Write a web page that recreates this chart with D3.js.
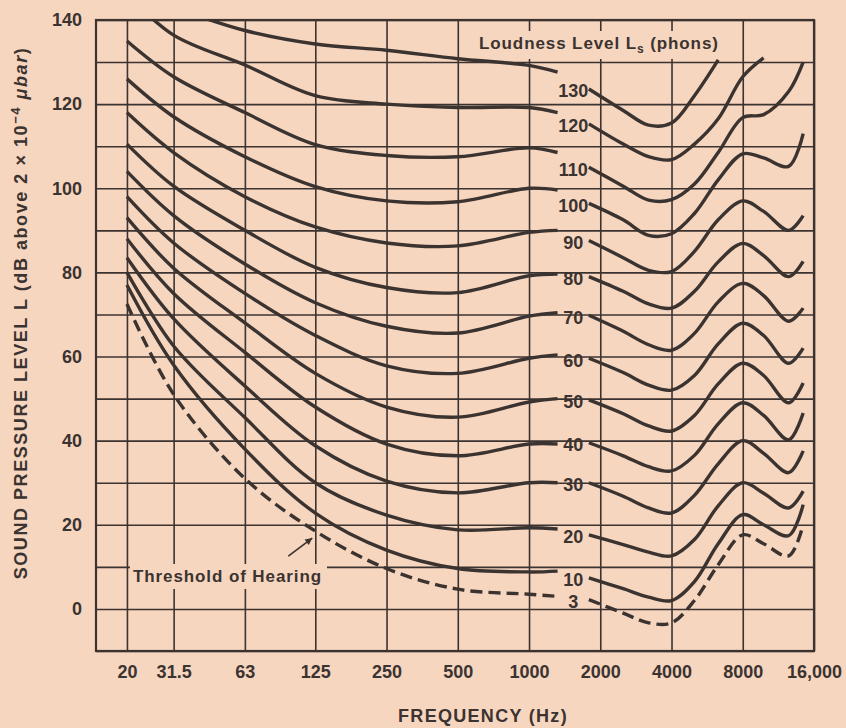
<!DOCTYPE html>
<html><head><meta charset="utf-8">
<script src="https://cdn.jsdelivr.net/npm/d3@7"></script>
<style>
html,body{margin:0;padding:0;background:#f7d6c0;}
svg{display:block;}
text{font-family:"Liberation Sans", Arial, Helvetica, sans-serif; fill:#3b3330; font-weight:bold;}
</style></head><body>
<svg id="chart" width="846" height="728"></svg>
<script>
// ---- data ----
const levels = [130, 120, 110, 100, 90, 80, 70, 60, 50, 40, 30, 20, 10, 3];
const lowFreqs = [20, 31.5, 63, 125, 250, 500, 1000, 1320];
const lowDb = [
  [null, 143, 137.5, 134.3, 132.8, 130.8, 129.2, 127.6],
  [146, 136.4, 129.3, 122, 120, 119.2, 119.2, 118],
  [135, 126.5, 118, 110.4, 107.8, 107.5, 109.6, 108.5],
  [126, 117, 107.5, 100.4, 97, 96.8, 100, 99.6],
  [118, 108.5, 98, 90.8, 87, 86.3, 89.5, 90],
  [110.5, 100.5, 90, 81.2, 76.4, 75.2, 79.2, 79.6],
  [104, 93.5, 82, 72.8, 67.2, 65.6, 69.6, 70.4],
  [98, 87, 75, 65, 57.8, 56, 59.6, 60.4],
  [93, 81, 68, 56, 48, 45.6, 49.2, 50],
  [88, 75, 61, 48, 39.2, 36.4, 39.2, 39.2],
  [83.5, 69, 53, 38.8, 30.4, 27.6, 30, 30],
  [80, 62.5, 45.5, 30, 22.3, 18.8, 19.3, 19],
  [77, 58, 38, 22.8, 14, 9.6, 8.8, 9],
  [72.5, 51, 31, 18.5, 9.6, 4.7, 3.5, 3]
];
const highFreqs = [1790, 2500, 3200, 4000, 5000, 6300, 8000, 9800, 12500, 14400];
const highDb = [
  [123.6, 118.5, 115, 115.5, 122, 130.5, null, null, null, null],
  [115.3, 110.5, 107.5, 106.8, 110.5, 116.5, 126.5, 131, null, null],
  [105, 100.5, 97.2, 97.3, 101, 108.5, 116.8, 117.5, 123, 130],
  [96.4, 92.5, 88.8, 89.2, 94, 102, 108.2, 107.2, 105.2, 113],
  [87.6, 83.5, 80.5, 80.2, 85, 92.5, 97, 94.5, 90, 93.5],
  [79, 75.5, 72.5, 71.5, 75.5, 82.5, 86.9, 84, 79, 82.6],
  [69.8, 66, 62.8, 61.5, 65.5, 73, 77.4, 74.5, 68.4, 71.5],
  [59.6, 56.2, 53.2, 52, 55.5, 63, 67.9, 65, 58.4, 62],
  [49.7, 46.4, 43.5, 42.3, 46, 53.5, 58.4, 55.5, 49, 53.7],
  [39.5, 36.4, 33.8, 32.8, 36.5, 44, 49, 46, 40.2, 46.6],
  [30, 26.8, 24, 22.8, 27, 34.5, 40, 37, 32.4, 37.6],
  [17.6, 15.3, 13.5, 12.6, 16.5, 24.5, 30, 27.5, 24, 28],
  [7.4, 4.8, 2.8, 2, 6.5, 15.5, 22.4, 20, 17.4, 24.8],
  [2.2, -1, -3.3, -3.3, 2, 10.5, 17.6, 15.5, 12.6, 20]
];
const freqTicks = [20, 31.5, 63, 125, 250, 500, 1000, 2000, 4000, 8000, 16000];
const freqTickLabels = ["20", "31.5", "63", "125", "250", "500", "1000", "2000", "4000", "8000", "16,000"];
const dbGrid = [-10, 0, 10, 20, 30, 40, 50, 60, 70, 80, 90, 100, 110, 120, 130, 140];
const dbLabels = [0, 20, 40, 60, 80, 100, 120, 140];

// ---- layout ----
const ink = "#3b3330";
const bg = "#f7d6c0";
const svg = d3.select("#chart");
const x = d3.scaleLog().domain([14.8, 16000]).range([96, 814]);
const y = d3.scaleLinear().domain([-10, 140]).range([651, 20]);
const [x0, x1] = x.range();
const [y0, y1] = y.range();

svg.append("rect").attr("width", 846).attr("height", 728).attr("fill", bg);
const gGrid = svg.append("g");
const gBoxes = svg.append("g");
const gFrame = svg.append("g");
const gCurves = svg.append("g");
const gText = svg.append("g");

// horizontal grid + y labels
const gy = gGrid.append("g").attr("transform", `translate(${x0},0)`)
  .call(d3.axisLeft(y).tickValues(dbGrid).tickSize(-(x1 - x0)).tickPadding(14)
    .tickFormat(d => dbLabels.includes(d) ? d : ""));
gy.select(".domain").remove();
gy.selectAll("line").attr("stroke", ink).attr("stroke-width", 1.6);
gy.selectAll("text").attr("font-size", 18).attr("fill", ink);

// vertical grid + x labels
const gx = gGrid.append("g").attr("transform", `translate(0,${y0})`)
  .call(d3.axisBottom(x).tickValues(freqTicks).tickSize(-(y0 - y1)).tickPadding(14)
    .tickFormat((d, i) => freqTickLabels[i]));
gx.select(".domain").remove();
gx.selectAll("line").attr("stroke", ink).attr("stroke-width", 1.6);
gx.selectAll("text").attr("font-size", 18).attr("fill", ink);

// frame
gFrame.append("rect").attr("x", x0).attr("y", y1).attr("width", x1 - x0).attr("height", y0 - y1)
  .attr("fill", "none").attr("stroke", ink).attr("stroke-width", 2.2);

// clip
svg.append("clipPath").attr("id", "plotclip").append("rect")
  .attr("x", x0).attr("y", y1).attr("width", x1 - x0).attr("height", y0 - y1);
gCurves.attr("clip-path", "url(#plotclip)");

const line = d3.line().defined(d => d[1] != null)
  .x(d => x(d[0])).y(d => y(d[1])).curve(d3.curveCatmullRom.alpha(0.5));

levels.forEach((lv, i) => {
  const segs = [lowFreqs.map((f, j) => [f, lowDb[i][j]]), highFreqs.map((f, j) => [f, highDb[i][j]])];
  segs.forEach(s => {
    gCurves.append("path").attr("d", line(s.filter(p => p[1] != null)))
      .attr("fill", "none").attr("stroke", ink).attr("stroke-width", 3.4)
      .attr("stroke-linecap", "butt")
      .attr("stroke-dasharray", lv === 3 ? "12,6" : null);
  });
});

// level labels in the gap
const labelX = (x(lowFreqs[lowFreqs.length - 1]) + x(highFreqs[0])) / 2;
levels.forEach((lv, i) => {
  gText.append("text").attr("x", labelX).attr("y", y(highDb[i][0]) + 2)
    .attr("dy", "0.35em").attr("text-anchor", "middle").attr("font-size", 18)
    .text(lv);
});

// "Loudness Level Ls (phons)" with backing box
const lt = gText.append("text").attr("x", 479).attr("y", 49).attr("font-size", 17).attr("letter-spacing", 0.9);
lt.append("tspan").text("Loudness Level L");
lt.append("tspan").attr("dy", 4).attr("font-size", 12).text("s");
lt.append("tspan").attr("dy", -4).text(" (phons)");
const lb = lt.node().getBBox();
gBoxes.append("rect").attr("x", lb.x - 4).attr("y", lb.y - 3).attr("width", lb.width + 8).attr("height", lb.height + 6).attr("fill", bg);

// "Threshold of Hearing" with backing box and arrow
const tt = gText.append("text").attr("x", 133).attr("y", 582).attr("font-size", 17).attr("letter-spacing", 0.9)
  .text("Threshold of Hearing");
const tb = tt.node().getBBox();
gBoxes.append("rect").attr("x", tb.x - 3).attr("y", tb.y - 3).attr("width", tb.width + 8).attr("height", tb.height + 6).attr("fill", bg);

const tipX = x(125) - 3, tipY = y(lowDb[13][3]) + 7;
const tailX = tipX - 24, tailY = tipY + 18;
gText.append("line").attr("x1", tailX).attr("y1", tailY).attr("x2", tipX).attr("y2", tipY)
  .attr("stroke", ink).attr("stroke-width", 1.6);
const ang = Math.atan2(tipY - tailY, tipX - tailX);
const ah = 7, aw = 3.5;
const bx = tipX - ah * Math.cos(ang), by = tipY - ah * Math.sin(ang);
gText.append("path").attr("d", `M${tipX},${tipY}L${bx - aw * Math.sin(ang)},${by + aw * Math.cos(ang)}L${bx + aw * Math.sin(ang)},${by - aw * Math.cos(ang)}Z`)
  .attr("fill", ink);

// axis titles
gText.append("text").attr("x", 483).attr("y", 722).attr("text-anchor", "middle")
  .attr("font-size", 18).attr("letter-spacing", 1.3).text("FREQUENCY (Hz)");

const yt = gText.append("text").attr("transform", "translate(27,313) rotate(-90)")
  .attr("text-anchor", "middle").attr("font-size", 18).attr("letter-spacing", 1.55);
yt.append("tspan").text("SOUND PRESSURE LEVEL L (dB above 2 × 10");
yt.append("tspan").attr("dy", -7).attr("font-size", 13).text("−4");
yt.append("tspan").attr("dy", 7).text(" ");
yt.append("tspan").attr("font-style", "italic").text("μbar");
yt.append("tspan").text(")");
</script>
</body></html>
